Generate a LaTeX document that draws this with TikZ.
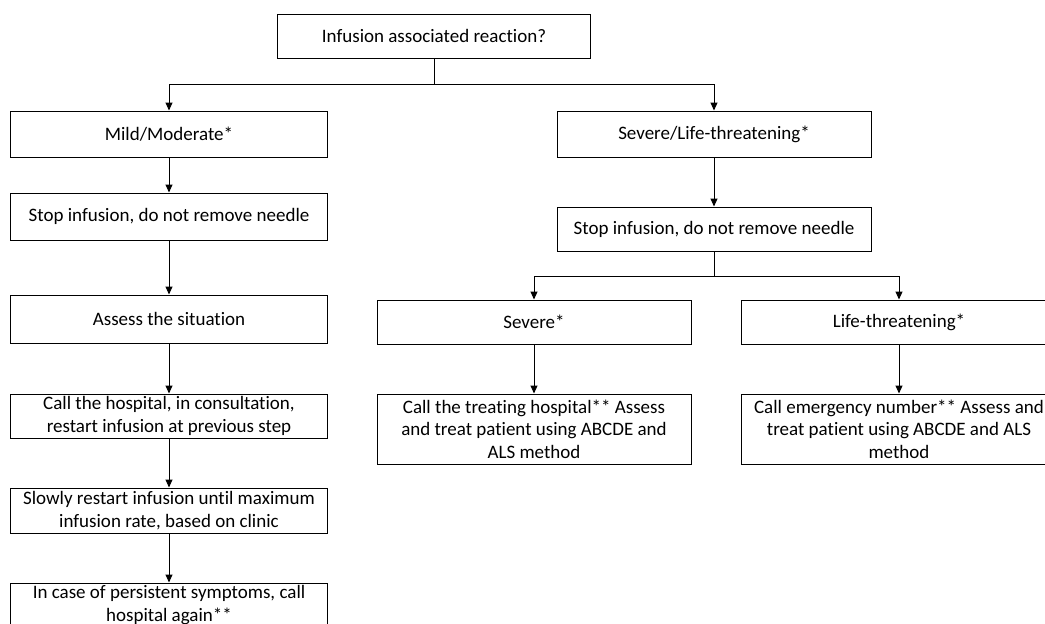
\documentclass[tikz,border=0pt]{standalone}
\usepackage{fontspec}
\setmainfont[Ligatures=NoCommon]{Carlito}
\usetikzlibrary{arrows.meta, positioning}

\begin{document}
\begin{tikzpicture}[x=1pt, y=-1pt,
        box/.style={draw, line width=1pt, inner sep=0pt, align=center,
            font=\fontsize{19}{22.5}\selectfont},
        arr/.style={line width=1pt, -{Triangle[length=8pt, width=7pt]}}]
        \useasboundingbox (0,0) rectangle (1045,624);

        % top question
        \node[box, minimum width=313pt, minimum height=44pt] (ask) at (434, 36) {Infusion associated reaction?};

        % left branch
        \node[box, minimum width=317pt, minimum height=46pt] (mild) at (169, 134) {Mild/Moderate*};
        \node[box, minimum width=317pt, minimum height=47pt] (stopl) at (169, 216.5) {Stop infusion, do not remove needle};
        \node[box, minimum width=317pt, minimum height=48pt] (assess) at (169, 319) {Assess the situation};
        \node[box, minimum width=317pt, minimum height=44pt] (callh) at (169, 416) {Call the hospital, in consultation,\\restart infusion at previous step};
        \node[box, minimum width=317pt, minimum height=45pt] (slow) at (169, 510.5) {Slowly restart infusion until maximum\\infusion rate, based on clinic};
        \node[box, minimum width=317pt, minimum height=44pt] (again) at (169, 605) {In case of persistent symptoms, call\\hospital again**};

        % right branch
        \node[box, minimum width=314pt, minimum height=46pt] (sevlife) at (714, 134) {Severe/Life-threatening*};
        \node[box, minimum width=314pt, minimum height=44pt] (stopr) at (714, 229) {Stop infusion, do not remove needle};
        \node[box, minimum width=314pt, minimum height=44pt] (sev) at (534, 322) {Severe*};
        \node[box, minimum width=316pt, minimum height=44pt] (life) at (899, 322) {Life-threatening*};
        \node[box, minimum width=314pt, minimum height=70pt] (sevcall) at (534, 429) {Call the treating hospital** Assess\\and treat patient using ABCDE and\\ALS method};
        \node[box, minimum width=316pt, minimum height=70pt] (lifecall) at (899, 429) {Call emergency number** Assess and\\treat patient using ABCDE and ALS\\method};

        \draw[arr] (ask.south) -- ++(0,26) -| (mild.north);
        \draw[arr] (ask.south) -- ++(0,26) -| (sevlife.north);

        \draw[arr] (mild) -- (stopl);
        \draw[arr] (stopl) -- (assess);
        \draw[arr] (assess) -- (callh);
        \draw[arr] (callh) -- (slow);
        \draw[arr] (slow) -- (again);

        \draw[arr] (sevlife) -- (stopr);
        \draw[arr] (stopr.south) -- ++(0,25) -| (sev.north);
        \draw[arr] (stopr.south) -- ++(0,25) -| (life.north);
        \draw[arr] (sev) -- (sevcall);
        \draw[arr] (life) -- (lifecall);
    \end{tikzpicture}
\end{document}
